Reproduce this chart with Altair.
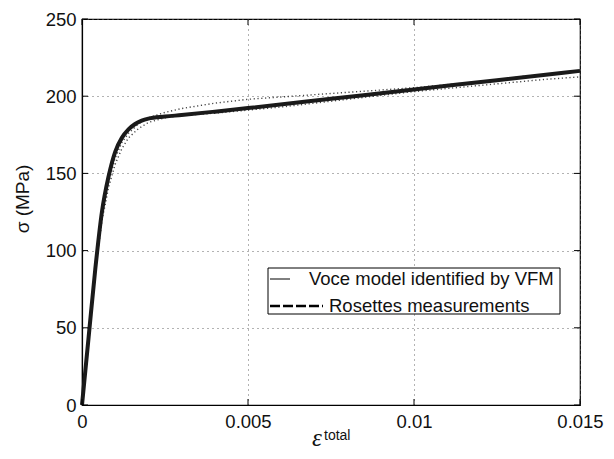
import altair as alt
import pandas as pd

# ---- data ----
model_strain = [0, 0.0002, 0.0004, 0.0006, 0.0008, 0.001, 0.0012, 0.0014, 0.0016, 0.0018,
                0.002, 0.0025, 0.003, 0.004, 0.005, 0.0075, 0.01, 0.0125, 0.015]
model_stress = [0, 44, 88, 125, 148, 164, 173, 178.5, 182, 184.2,
                185.5, 186.8, 187.8, 190, 192.3, 198.3, 204.3, 210.4, 216.4]

meas_a_strain = [0, 0.0002, 0.0004, 0.0006, 0.0008, 0.001, 0.0012, 0.0014, 0.0017, 0.002,
                 0.0025, 0.003, 0.004, 0.005, 0.006, 0.007, 0.008, 0.009, 0.010, 0.011,
                 0.012, 0.013, 0.0135]
meas_a_stress = [0, 45, 88, 122, 145, 160, 170, 176, 182, 186,
                 189.5, 192, 195.5, 198, 199.5, 201, 202.5, 204, 205.5, 207.5,
                 209.5, 212, 213.5]

meas_b_strain = [0, 0.0002, 0.0004, 0.0006, 0.0008, 0.001, 0.0012, 0.0014, 0.0017, 0.002,
                 0.0025, 0.003, 0.004, 0.005, 0.006, 0.007, 0.008, 0.009, 0.010, 0.011,
                 0.012, 0.013, 0.014, 0.015]
meas_b_stress = [0, 44, 86, 119, 141, 156, 166, 173, 179, 183,
                 186, 187.5, 189, 191, 193, 195.5, 198, 200.5, 203, 205,
                 207, 209, 211, 212.5]

x_ticks = [0, 0.005, 0.01, 0.015]
y_ticks = [0, 50, 100, 150, 200, 250]
legend_labels = ["Voce model identified by VFM", "Rosettes measurements"]
y_title = "σ (MPa)"
x_title_main = "ε"
x_title_sup = "total"

W, H = 498, 386
FONT = "Liberation Sans"

model_df = pd.DataFrame({"eps": model_strain, "sig": model_stress})
meas_df = pd.concat([
    pd.DataFrame({"eps": meas_a_strain, "sig": meas_a_stress, "run": "a"}),
    pd.DataFrame({"eps": meas_b_strain, "sig": meas_b_stress, "run": "b"}),
])
xt_df = pd.DataFrame({"eps": x_ticks})
yt_df = pd.DataFrame({"sig": y_ticks})
one = pd.DataFrame({"k": [0]})

xscale = alt.Scale(domain=[0, 0.015], nice=False, zero=False)
yscale = alt.Scale(domain=[0, 250], nice=False)
xaxis = alt.Axis(values=x_ticks, labelExpr="format(datum.value, '.3~f')", title=None,
                 grid=True, labelFlush=False, labelOverlap=False)
yaxis = alt.Axis(values=y_ticks, title=None, grid=True, labelFlush=False)
X = alt.X("eps:Q", scale=xscale, axis=xaxis)
Y = alt.Y("sig:Q", scale=yscale, axis=yaxis)

meas = alt.Chart(meas_df).mark_line(
    color="#444444", strokeWidth=1.4, strokeDash=[1.2, 2.6]
).encode(x=X, y=Y, detail="run:N")

model = alt.Chart(model_df).mark_line(
    color="#1a1a1a", strokeWidth=4, interpolate="monotone"
).encode(x=X, y=Y)

# inward ticks (box style)
tl = alt.Chart(yt_df).mark_rule(color="black").encode(y=Y, x=alt.value(0), x2=alt.value(6))
tr = alt.Chart(yt_df).mark_rule(color="black").encode(y=Y, x=alt.value(W - 6), x2=alt.value(W))
tb = alt.Chart(xt_df).mark_rule(color="black").encode(x=X, y=alt.value(H - 6), y2=alt.value(H))
tt = alt.Chart(xt_df).mark_rule(color="black").encode(x=X, y=alt.value(0), y2=alt.value(6))

# legend box
lb = alt.Chart(one).mark_rect(fill="white", stroke="black", strokeWidth=1).encode(
    x=alt.value(186), x2=alt.value(478), y=alt.value(249), y2=alt.value(295))
l1 = alt.Chart(one).mark_rule(color="black", strokeWidth=1).encode(
    x=alt.value(188), x2=alt.value(208), y=alt.value(260))
l2 = alt.Chart(one).mark_rule(color="black", strokeWidth=2.5, strokeDash=[10, 3]).encode(
    x=alt.value(188), x2=alt.value(241), y=alt.value(287))
t1 = alt.Chart(one).mark_text(
    text=legend_labels[0], font=FONT, fontSize=18.5, align="left", baseline="middle", color="#111"
).encode(x=alt.value(227), y=alt.value(260))
t2 = alt.Chart(one).mark_text(
    text=legend_labels[1], font=FONT, fontSize=18.5, align="left", baseline="middle", color="#111"
).encode(x=alt.value(247), y=alt.value(287))

# axis titles
ytitle = alt.Chart(one).mark_text(
    text=y_title, font=FONT, fontSize=19, angle=270, align="center", baseline="middle", color="#111"
).encode(x=alt.value(-59), y=alt.value(180))
xt1 = alt.Chart(one).mark_text(
    text=x_title_main, font="Liberation Serif", fontStyle="italic", fontSize=25,
    align="center", baseline="alphabetic", color="#111"
).encode(x=alt.value(235), y=alt.value(427))
xt2 = alt.Chart(one).mark_text(
    text=x_title_sup, font=FONT, fontSize=14, align="left", baseline="alphabetic", color="#111"
).encode(x=alt.value(242), y=alt.value(421))

chart = alt.layer(
    meas, model, tl, tr, tb, tt, lb, l1, l2, t1, t2, ytitle, xt1, xt2
).properties(
    width=W, height=H,
    autosize=alt.AutoSizeParams(type="none"),
    padding={"left": 74, "top": 11, "right": 26, "bottom": 52},
).configure_view(
    stroke="black", strokeWidth=1.2
).configure_axis(
    gridDash=[1, 4], gridColor="#666666", gridWidth=1, gridOpacity=1,
    domainColor="black", domainWidth=1.2, ticks=False,
    labelFont=FONT, labelFontSize=18.5, labelColor="#111",
).configure_axisY(labelPadding=6).configure_axisX(labelPadding=7)

chart.save("out.html", embed_options={"renderer": "svg", "actions": False})
